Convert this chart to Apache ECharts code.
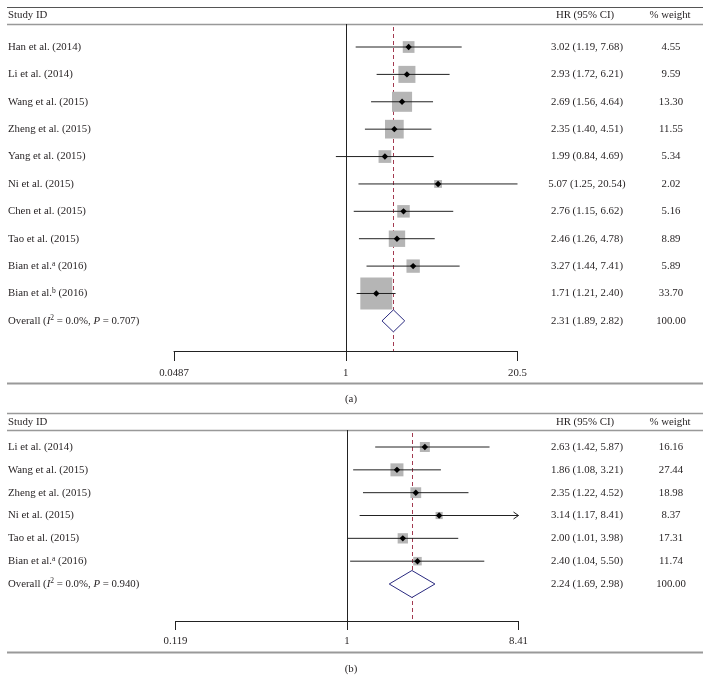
<!DOCTYPE html>
<html><head><meta charset="utf-8">
<script src="https://cdn.jsdelivr.net/npm/echarts@6/dist/echarts.min.js"></script>
<style>html,body{margin:0;padding:0;background:#fff}#c{width:703px;height:690px}</style>
</head><body><div id="c"></div>
<script>
// ---------- Panel (a) data ----------
const studiesA = ['Han et al. (2014)', 'Li et al. (2014)', 'Wang et al. (2015)', 'Zheng et al. (2015)', 'Yang et al. (2015)', 'Ni et al. (2015)', 'Chen et al. (2015)', 'Tao et al. (2015)', 'Bian et al.{sup|a} (2016)', 'Bian et al.{sup|b} (2016)'];
const hrA = [3.02, 2.93, 2.69, 2.35, 1.99, 5.07, 2.76, 2.46, 3.27, 1.71];
const lowA = [1.19, 1.72, 1.56, 1.40, 0.84, 1.25, 1.15, 1.26, 1.44, 1.21];
const highA = [7.68, 6.21, 4.64, 4.51, 4.69, 20.54, 6.62, 4.78, 7.41, 2.40];
const weightA = [4.55, 9.59, 13.30, 11.55, 5.34, 2.02, 5.16, 8.89, 5.89, 33.70];
const overallLabelA = 'Overall ({it|I}{sup|2} = 0.0%, {it|P} = 0.707)';
const overallA = [2.31, 1.89, 2.82, 100.00];
const tickLabelsA = ['0.0487', '1', '20.5'];

// ---------- Panel (b) data ----------
const studiesB = ['Li et al. (2014)', 'Wang et al. (2015)', 'Zheng et al. (2015)', 'Ni et al. (2015)', 'Tao et al. (2015)', 'Bian et al.{sup|a} (2016)'];
const hrB = [2.63, 1.86, 2.35, 3.14, 2.00, 2.40];
const lowB = [1.42, 1.08, 1.22, 1.17, 1.01, 1.04];
const highB = [5.87, 3.21, 4.52, 8.41, 3.98, 5.50];
const weightB = [16.16, 27.44, 18.98, 8.37, 17.31, 11.74];
const overallLabelB = 'Overall ({it|I}{sup|2} = 0.0%, {it|P} = 0.940)';
const overallB = [2.24, 1.69, 2.98, 100.00];
const tickLabelsB = ['0.119', '1', '8.41'];

// ---------- styles ----------
const FONT = '"Liberation Serif", "Times New Roman", serif';
const FS = 10.8;
const TXT = '#231f20';
const RICH = {
  sup: { fontSize: 7.5, fontFamily: FONT, fill: TXT, verticalAlign: 'top', padding: [0, 0, 5, 0] },
  it: { fontSize: FS, fontFamily: FONT, fill: TXT, fontStyle: 'italic' }
};

const panels = [
  { studies: studiesA, hr: hrA, low: lowA, high: highA, w: weightA, ovLabel: overallLabelA, ov: overallA, ticks: tickLabelsA,
    grid: { left: 174, top: 24, width: 343.5, height: 327 }, yMin: -0.84, yMax: 11.1, boxK: 5.5, diaH: 22, arrow: false, margin: 17, tickLen: 10 },
  { studies: studiesB, hr: hrB, low: lowB, high: highB, w: weightB, ovLabel: overallLabelB, ov: overallB, ticks: tickLabelsB,
    grid: { left: 175.5, top: 430, width: 343, height: 191 }, yMin: -0.745, yMax: 7.62, boxK: 2.48, diaH: 27, arrow: true, margin: 15, tickLen: 9 }
];

const grids = [], xAxes = [], yAxes = [], series = [];

panels.forEach((p, k) => {
  const tickVals = p.ticks.map(Number);
  const xMin = tickVals[0], xMax = tickVals[tickVals.length - 1];
  const n = p.studies.length;
  grids.push(Object.assign({ containLabel: false }, p.grid));
  xAxes.push({
    type: 'log', gridIndex: k, min: xMin, max: xMax, logBase: 10, position: 'bottom',
    axisLine: { show: true, onZero: false, lineStyle: { color: '#222', width: 1 } },
    axisTick: { show: true, customValues: tickVals, length: p.tickLen, inside: false, lineStyle: { color: '#222', width: 1 } },
    axisLabel: { show: true, customValues: tickVals, margin: p.margin, color: TXT, fontFamily: FONT, fontSize: FS,
      formatter: v => { let bi = 0; tickVals.forEach((t, i) => { if (Math.abs(Math.log(t) - Math.log(v)) < Math.abs(Math.log(tickVals[bi]) - Math.log(v))) bi = i; }); return p.ticks[bi]; } },
    splitLine: { show: false }, minorTick: { show: false }, minorSplitLine: { show: false }
  });
  yAxes.push({ type: 'value', gridIndex: k, inverse: true, min: p.yMin, max: p.yMax, show: false });

  // vertical no-effect line at 1 and dashed overall line
  series.push({
    type: 'custom', xAxisIndex: k, yAxisIndex: k, clip: false, silent: true,
    data: [[1, 0], [p.ov[0], 1]],
    encode: { x: 0, y: 1 },
    renderItem: (params, api) => {
      const cs = params.coordSys;
      const x = Math.round(api.coord([api.value(0), 0])[0]) + 0.5;
      if (api.value(1) === 0) {
        return { type: 'line', shape: { x1: x, y1: cs.y, x2: x, y2: cs.y + cs.height }, style: { stroke: '#222', lineWidth: 1 } };
      }
      return { type: 'line', shape: { x1: x, y1: cs.y + 3, x2: x, y2: cs.y + cs.height }, style: { stroke: '#a33a50', lineWidth: 1, lineDash: [4, 3] } };
    }
  });

  // study rows: box, CI, point
  series.push({
    type: 'custom', xAxisIndex: k, yAxisIndex: k, clip: false, silent: true,
    data: p.hr.map((h, i) => [h, p.low[i], p.high[i], p.w[i], i]),
    encode: { x: [0, 1, 2], y: 4 },
    renderItem: (params, api) => {
      const h = api.value(0), lo = api.value(1), hi = api.value(2), w = api.value(3), i = api.value(4);
      const c = api.coord([h, i]);
      const clippedHi = hi >= xMax;
      const xl = api.coord([Math.max(lo, xMin), i])[0];
      const xr = api.coord([Math.min(hi, xMax), i])[0];
      const s = p.boxK * Math.sqrt(w);
      const d = 3.2;
      const children = [
        { type: 'rect', shape: { x: c[0] - s / 2, y: c[1] - s / 2, width: s, height: s }, style: { fill: '#b5b5b5' } },
        { type: 'line', shape: { x1: xl, y1: c[1], x2: xr, y2: c[1] }, style: { stroke: '#222', lineWidth: 1 } },
        { type: 'polygon', shape: { points: [[c[0], c[1] - d], [c[0] + d, c[1]], [c[0], c[1] + d], [c[0] - d, c[1]]] }, style: { fill: '#000' } }
      ];
      if (clippedHi && p.arrow) {
        children.push({ type: 'polyline', shape: { points: [[xr - 5, c[1] - 3.5], [xr, c[1]], [xr - 5, c[1] + 3.5]] }, style: { stroke: '#222', lineWidth: 1, fill: null } });
      }
      return { type: 'group', children };
    }
  });

  // overall diamond
  series.push({
    type: 'custom', xAxisIndex: k, yAxisIndex: k, clip: false, silent: true,
    data: [[p.ov[0], p.ov[1], p.ov[2], n]],
    encode: { x: [0, 1, 2], y: 3 },
    renderItem: (params, api) => {
      const i = api.value(3);
      const c = api.coord([api.value(0), i]);
      const xl = api.coord([api.value(1), i])[0];
      const xr = api.coord([api.value(2), i])[0];
      const hh = p.diaH / 2;
      return { type: 'polygon', shape: { points: [[xl, c[1]], [c[0], c[1] - hh], [xr, c[1]], [c[0], c[1] + hh]] }, style: { fill: '#fff', stroke: '#2a2a80', lineWidth: 1 } };
    }
  });

  // text columns
  const rows = p.studies.map((s, i) => [i]).concat([[n]]);
  series.push({
    type: 'custom', xAxisIndex: k, yAxisIndex: k, clip: false, silent: true, z: 5,
    data: rows.map(r => [1, r[0]]),
    encode: { x: 0, y: 1 },
    renderItem: (params, api) => {
      const i = api.value(1);
      const y = api.coord([1, i])[1];
      const isOv = i === n;
      const lab = isOv ? p.ovLabel : p.studies[i];
      const h = isOv ? p.ov[0] : p.hr[i], lo = isOv ? p.ov[1] : p.low[i], hi = isOv ? p.ov[2] : p.high[i], w = isOv ? p.ov[3] : p.w[i];
      const base = { fill: TXT, fontFamily: FONT, fontSize: FS, verticalAlign: 'middle' };
      return { type: 'group', children: [
        { type: 'text', x: 8, y: y, style: Object.assign({}, base, { text: lab, align: 'left', rich: RICH }) },
        { type: 'text', x: 587, y: y, style: Object.assign({}, base, { text: h.toFixed(2) + ' (' + lo.toFixed(2) + ', ' + hi.toFixed(2) + ')', align: 'center' }) },
        { type: 'text', x: 671, y: y, style: Object.assign({}, base, { text: w.toFixed(2), align: 'center' }) }
      ] };
    }
  });
});

function hline(y, color, lw) {
  return { type: 'line', shape: { x1: 7, y1: y, x2: 703, y2: y }, style: { stroke: color, lineWidth: lw }, silent: true };
}
function txt(x, y, t, align) {
  return { type: 'text', x: x, y: y, style: { text: t, fill: TXT, font: FS + 'px ' + FONT, align: align, verticalAlign: 'middle' }, silent: true };
}

const graphics = [
  hline(7.5, '#555', 1.2), hline(24.5, '#999', 1.5),
  txt(8, 15.5, 'Study ID', 'left'), txt(585, 15.5, 'HR (95% CI)', 'center'), txt(670, 15.5, '% weight', 'center'),
  hline(383.5, '#999', 2), txt(351, 399.5, '(a)', 'center'),
  hline(413.5, '#999', 1.5), hline(430.5, '#999', 1.5),
  txt(8, 422, 'Study ID', 'left'), txt(585, 422, 'HR (95% CI)', 'center'), txt(670, 422, '% weight', 'center'),
  hline(652.5, '#999', 2), txt(351, 669, '(b)', 'center')
];

const chart = echarts.init(document.getElementById('c'), null, { renderer: 'canvas' });
chart.setOption({
  backgroundColor: '#fff',
  animation: false,
  grid: grids, xAxis: xAxes, yAxis: yAxes, series: series,
  graphic: graphics
});
</script>
</body></html>
